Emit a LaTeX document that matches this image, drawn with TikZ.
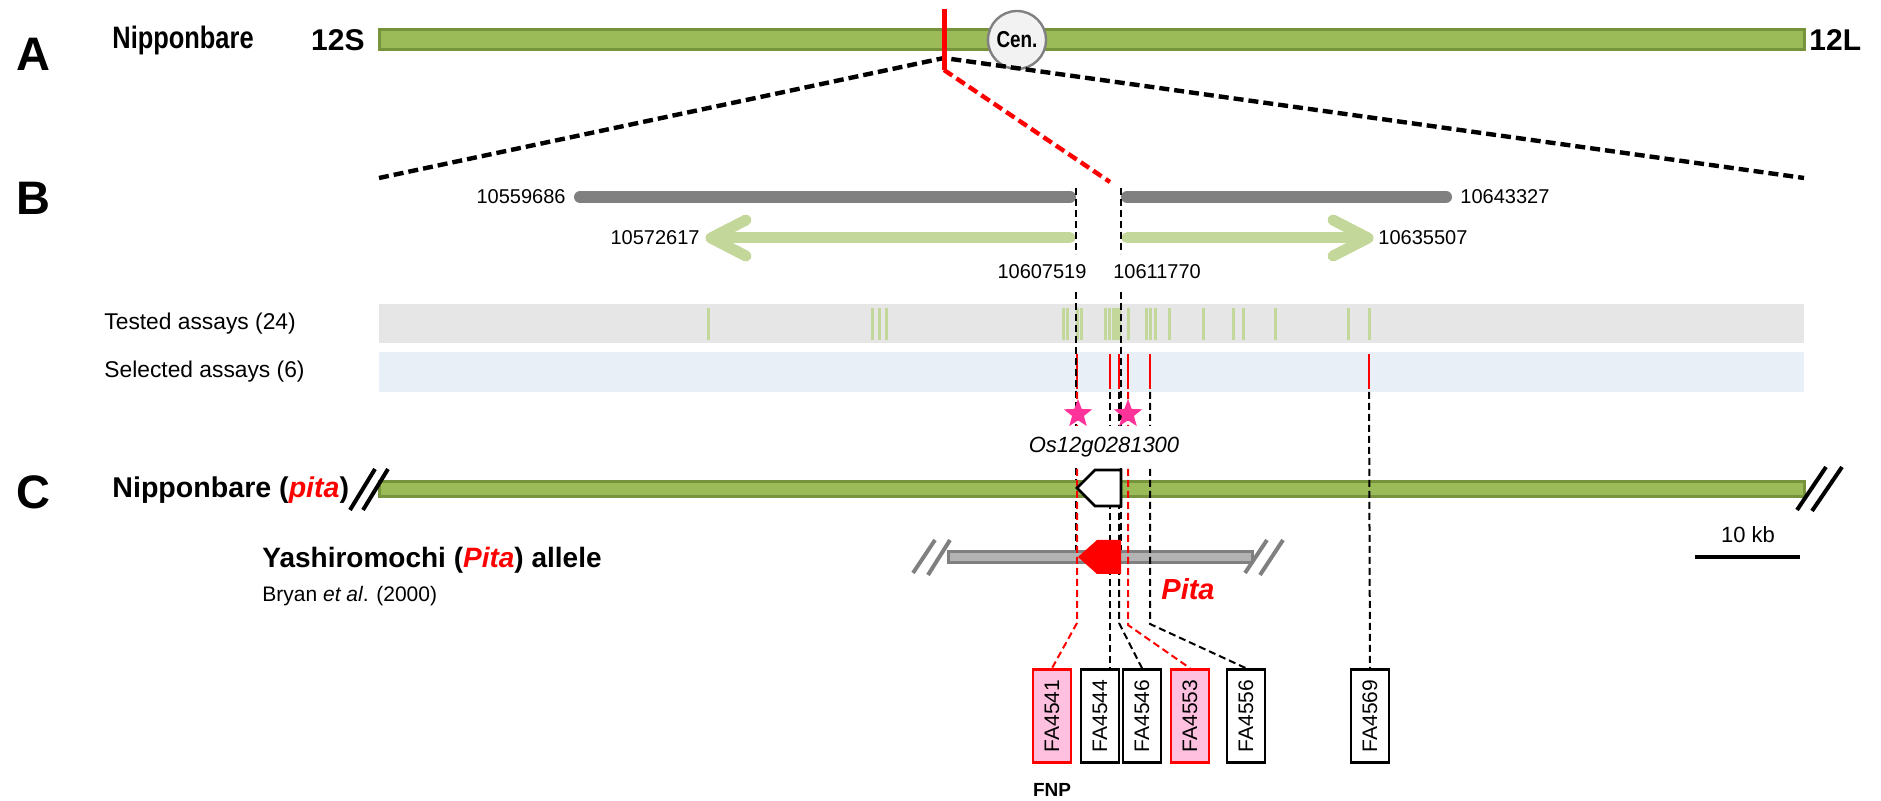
\documentclass[tikz,border=0pt]{standalone}
\usepackage{fontspec}
\usepackage{graphicx}
\setmainfont{Liberation Sans}
\newfontfamily\narrowsf{Liberation Sans}[FakeStretch=0.82]
\usetikzlibrary{shapes.geometric}
\definecolor{chromgreen}{RGB}{155,187,89}
\definecolor{chromedge}{RGB}{119,147,60}
\definecolor{paleleaf}{RGB}{196,215,155}
\definecolor{assaygray}{RGB}{230,230,230}
\definecolor{assayblue}{RGB}{233,239,247}
\definecolor{fnppink}{RGB}{255,192,224}
\definecolor{starpink}{RGB}{255,51,153}
\definecolor{midgray}{RGB}{128,128,128}
\definecolor{allelegray}{RGB}{179,179,179}
\tikzset{
  panel/.style={font=\fontsize{23.5}{24}\selectfont\bfseries},
  strain/.style={font=\narrowsf\fontsize{15.5}{16}\selectfont\bfseries, inner sep=0pt},
  armlabel/.style={font=\fontsize{15}{16}\selectfont\bfseries, inner sep=0pt},
  coordlabel/.style={font=\fontsize{10}{10}\selectfont, inner sep=0pt},
  rowlabel/.style={font=\fontsize{11.4}{12}\selectfont, anchor=west, inner sep=0pt},
  cutline/.style={dash pattern=on 5pt off 2.5pt, line width=2.2pt},
  guide/.style={dash pattern=on 3.5pt off 2pt, line width=1pt},
  chrom/.style={fill=chromgreen, draw=chromedge, line width=1.5pt},
  breakmark/.style={line width=2pt},
  snp/.style={star, star points=5, star point ratio=2.4, fill=starpink, inner sep=0pt, minimum size=15pt},
  assaybox/.style={draw=black, line width=1.3pt, fill=white, minimum width=19pt,
    minimum height=46.5pt, inner sep=0pt, font=\fontsize{10.5}{10.5}\selectfont},
  fnpbox/.style={assaybox, draw=red, fill=fnppink},
}

\begin{document}
\begin{tikzpicture}[x=0.5pt,y=0.5pt,yscale=-1]
\useasboundingbox (0,0) rectangle (1881,801);

%%% Panel A: chromosome 12
\node[panel] (labA) at (33,54) {A};
\node[strain, anchor=west] (nipA) at (112,40) {Nipponbare};
\node[armlabel, anchor=east] (arm12S) at (365,40) {12S};
\node[armlabel, anchor=west] (arm12L) at (1809,40) {12L};
\draw[chrom] (379,30) rectangle (1804,50);
\node[circle, draw=midgray, fill=black!5, line width=1.2pt, minimum size=29pt, inner sep=0pt,
  font=\narrowsf\fontsize{11.5}{12}\selectfont\bfseries] (cen) at (1017,40) {Cen.};
% locus marker
\coordinate (locTop) at (944,9);
\coordinate (locBot) at (944,70);
\coordinate (locMid) at (944,58);
\coordinate (zoomL) at (379,178);
\coordinate (zoomR) at (1804,178);
\coordinate (zoomGap) at (1110,182);
\draw[cutline] (zoomL) -- (locMid) -- (zoomR);
\draw[red, line width=2.5pt] (locTop) -- (locBot);
\draw[cutline, red] (locBot) -- (zoomGap);

%%% Panel B: region
\node[panel] (labB) at (33,198) {B};
\draw[midgray, line width=6pt, line cap=round] (580,197) -- (1070,197);
\draw[midgray, line width=6pt, line cap=round] (1127,197) -- (1446,197);
\node[coordlabel, anchor=east] (p10559686) at (566,197) {10559686};
\node[coordlabel, anchor=west] (p10643327) at (1460,197) {10643327};
% flanking arrows
\draw[paleleaf, line width=5.5pt, line cap=round] (1070,238) -- (716,238);
\draw[paleleaf, line width=5.5pt, line cap=round, line join=round] (746,220) -- (711,238) -- (746,256);
\draw[paleleaf, line width=5.5pt, line cap=round] (1127,238) -- (1362,238);
\draw[paleleaf, line width=5.5pt, line cap=round, line join=round] (1333,220) -- (1368,238) -- (1333,256);
\node[coordlabel, anchor=east] (p10572617) at (700,238) {10572617};
\node[coordlabel, anchor=west] (p10635507) at (1378,238) {10635507};
\node[coordlabel] (p10607519) at (1042,272) {10607519};
\node[coordlabel] (p10611770) at (1157,272) {10611770};

% assay rows
\fill[assaygray] (379,304) rectangle (1804,343);
\fill[assayblue] (379,352) rectangle (1804,392);
\node[rowlabel] (tested) at (104,324) {Tested assays (24)};
\node[rowlabel] (selected) at (104,372) {Selected assays (6)};
\foreach \t in {708,872,879,886,1063,1067,1077,1081,1105,1109,1113,1116,1119,1128,1146,1150,1155,1169,1203,1233,1243,1275,1348,1369}
  \draw[paleleaf, line width=1.5pt] (\t,308) -- (\t,340);
\foreach \t/\n in {1077/4541,1110/4544,1119/4546,1128/4553,1150/4556,1369/4569}{
  \draw[red, line width=1.2pt] (\t,354) -- (\t,389);
  \coordinate (s\n) at (\t,392);
}

% region borders
\draw[guide] (1076,188) -- (1076,254) (1076,292) -- (1076,557);
\draw[guide] (1121,188) -- (1121,254) (1121,292) -- (1121,557);

%%% Panel C: Nipponbare and Yashiromochi
\node[panel] (labC) at (33,492) {C};
\node[armlabel, font=\fontsize{14.3}{15}\selectfont\bfseries, anchor=west] (nipC) at (112,490) {Nipponbare (\textcolor{red}{\itshape pita})};
\draw[chrom] (379,482) rectangle (1804,497);
\draw[breakmark] (350,510) -- (375,469) (363,510) -- (388,469);
\draw[breakmark] (1797,510) -- (1826,467) (1812,511) -- (1842,467);
% Yashiromochi allele
\draw[fill=allelegray, draw=midgray, line width=1.5pt] (948,552) rectangle (1252,563);
\draw[breakmark, midgray] (913,573) -- (935,540) (928,575) -- (950,540);
\draw[breakmark, midgray] (1245,573) -- (1267,540) (1260,575) -- (1283,540);

% assay boxes
\node[fnpbox] (fa4541) at (1052,716) {\rotatebox{90}{FA4541}};
\node[assaybox] (fa4544) at (1100,716) {\rotatebox{90}{FA4544}};
\node[assaybox] (fa4546) at (1142,716) {\rotatebox{90}{FA4546}};
\node[fnpbox] (fa4553) at (1190,716) {\rotatebox{90}{FA4553}};
\node[assaybox] (fa4556) at (1246,716) {\rotatebox{90}{FA4556}};
\node[assaybox] (fa4569) at (1370,716) {\rotatebox{90}{FA4569}};
\node[font=\fontsize{9.5}{10}\selectfont\bfseries] (fnp) at (1052,790) {FNP};

% connectors
\draw[guide, red] (s4541) -- ++(0,231) -- (fa4541.north);
\draw[guide] (s4544) -- (s4544 |- fa4544.north);
\draw[guide] (s4546) -- ++(0,231) -- (fa4546.north);
\draw[guide, red] (s4553) -- ++(0,233) -- (fa4553.north);
\draw[guide] (s4556) -- ++(0,232) -- (fa4556.north);
\draw[guide] (s4569) -- (fa4569.north);

% genes
\node[fill=white, inner sep=0pt, minimum height=21pt, font=\fontsize{11}{11}\selectfont\itshape] (os) at (1104,447) {Os12g0281300};
\draw[fill=white, line width=1.3pt] (1121,470) -- (1095,470) -- (1077,488) -- (1095,506) -- (1121,506) -- cycle;
\fill[red] (1121,540) -- (1097,540) -- (1078,557) -- (1097,574) -- (1121,574) -- cycle;
\node[snp] (snp1) at (1078,414) {};
\node[snp] (snp2) at (1128,414) {};
\node[font=\fontsize{14.5}{15}\selectfont\bfseries\itshape, text=red] (pita) at (1188,589) {Pita};
\node[font=\fontsize{14}{15}\selectfont\bfseries, anchor=west, inner sep=0pt] (yashiro) at (262,560) {Yashiromochi (\textcolor{red}{\itshape Pita}) allele};
\node[font=\fontsize{10.5}{11}\selectfont, anchor=west, inner sep=0pt] (bryan) at (262,596) {Bryan \textit{et al}. (2000)};

% scale bar
\draw[line width=2pt] (1695,557) -- (1800,557);
\node[font=\fontsize{11}{11}\selectfont] (kb) at (1748,535) {10 kb};

\end{tikzpicture}
\end{document}
